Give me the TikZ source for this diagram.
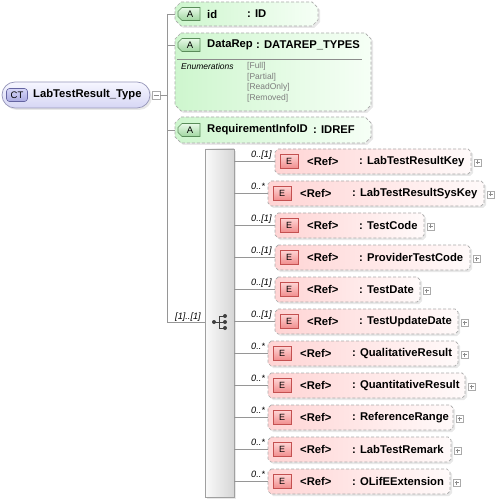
\documentclass[tikz,border=0pt]{standalone}
\usepackage{fontspec}
\setmainfont{Liberation Sans}
\definecolor{attrL}{RGB}{206,246,206}
\definecolor{attrR}{RGB}{246,255,246}
\definecolor{elemL}{RGB}{255,212,212}
\definecolor{elemR}{RGB}{255,250,250}
\definecolor{dashC}{RGB}{170,170,170}
\definecolor{connC}{RGB}{150,150,150}
\definecolor{aT}{RGB}{232,250,232}
\definecolor{aB}{RGB}{160,214,160}
\definecolor{aD}{RGB}{90,140,90}
\definecolor{eT}{RGB}{255,212,212}
\definecolor{eB}{RGB}{240,140,140}
\definecolor{eD}{RGB}{196,80,80}
\definecolor{ctT}{RGB}{246,246,255}
\definecolor{ctB}{RGB}{214,214,244}
\definecolor{ctD}{RGB}{150,150,185}
\definecolor{ctbT}{RGB}{215,215,248}
\definecolor{ctbB}{RGB}{170,170,225}
\definecolor{ctbD}{RGB}{100,100,160}
\definecolor{seqL}{RGB}{250,250,250}
\definecolor{seqR}{RGB}{214,214,214}
\definecolor{seqD}{RGB}{160,160,160}
\definecolor{enumC}{RGB}{125,125,125}
\definecolor{sepC}{RGB}{140,140,140}
\newcommand\chamf[3]{%
  \path[#3] ([xshift=#2]#1.north west) -- ([xshift=-#2]#1.north east) -- ([yshift=-#2]#1.north east) -- ([yshift=#2]#1.south east) -- ([xshift=-#2]#1.south east) -- ([xshift=#2]#1.south west) -- ([yshift=#2]#1.south west) -- ([yshift=-#2]#1.north west) -- cycle;}
\newcommand\tagshape[2]{%
  \path[#2] ([xshift=4pt]#1.north west) -- (#1.north east) -- (#1.south east) -- ([xshift=4pt]#1.south west) -- ([yshift=4pt]#1.south west) -- ([yshift=-4pt]#1.north west) -- cycle;}
\begin{document}
\begin{tikzpicture}[x=1pt,y=-1pt,
  frame/.style={rectangle, inner sep=0pt, outer sep=0pt, anchor=west},
  dashbox/.style={draw=dashC, line width=0.7pt, dash pattern=on 3pt off 2pt},
  shadowed/.style={preaction={fill=black!9, transform canvas={xshift=2pt,yshift=-2pt}}},
  attrsty/.style={shadowed, dashbox, left color=attrL, right color=attrR},
  elemsty/.style={shadowed, dashbox, left color=elemL, right color=elemR},
  abadge/.style={top color=aT, bottom color=aB, draw=aD, line width=0.6pt},
  ebadge/.style={rectangle, minimum width=18pt, minimum height=14pt, inner sep=0pt, top color=eT, bottom color=eB, draw=eD, line width=0.6pt, font=\fontsize{9}{10}\selectfont},
  letter/.style={inner sep=0pt, font=\fontsize{9.5}{11}\selectfont},
  nm/.style={font=\fontsize{11.25}{13}\selectfont\bfseries, inner sep=0pt, anchor=west},
  mult/.style={font=\fontsize{9.2}{11}\selectfont\itshape, inner sep=0pt, anchor=base west},
  enum/.style={font=\fontsize{8.5}{10}\selectfont, text=enumC, inner sep=0pt, anchor=west},
  conn/.style={draw=connC, line width=0.7pt},
  plusbox/.style={rectangle, draw=dashC, fill=white, line width=0.5pt, minimum size=7pt, inner sep=0pt}]
\useasboundingbox (0,0) rectangle (494,502);

% complex type
\node[rectangle, rounded corners=13pt, minimum width=148pt, minimum height=26pt, inner sep=0pt,
  top color=ctT, bottom color=ctB, draw=ctD, line width=0.7pt, shadowed] (ct) at (76,95) {};
\node[rectangle, rounded corners=3pt, minimum width=21pt, minimum height=13pt, inner sep=0pt,
  top color=ctbT, bottom color=ctbB, draw=ctbD, line width=0.6pt, font=\fontsize{9.5}{11}\selectfont] (ctb) at (17,95) {CT};
\node[nm] (ctn) at (33,95) {LabTestResult\_Type};
\node[plusbox, minimum size=8pt] (minus) at (156,95) {};
\draw[draw=sepC, line width=0.5pt] ([xshift=-2.5pt]minus.center) -- ([xshift=2.5pt]minus.center);

% trunk
\coordinate (tTop) at (167,14);
\coordinate (tCT) at (167,95);
\coordinate (tDR) at (167,45);
\coordinate (tRQ) at (167,130);
\coordinate (tBot) at (167,322);
\draw[conn] (tTop) -- (tBot);
\draw[conn] (minus.east) -- (tCT);

% attribute id
\node[frame, minimum width=143pt, minimum height=24pt] (aid) at (175,14) {};
\chamf{aid}{6pt}{attrsty}
\node[frame, minimum width=22pt, minimum height=13pt] (aidb) at (178,14) {};
\tagshape{aidb}{abadge}
\node[letter] (aidA) at ([xshift=1pt]aidb.center) {A};
\node[nm] (aidn) at (207,14) {id};
\node[nm] (aidt) at (247,14) {: ID};
\draw[conn] (tTop) -- (aid.west);

% attribute DataRep
\node[frame, minimum width=196pt, minimum height=78pt] (adr) at (175,72) {};
\chamf{adr}{6pt}{attrsty}
\node[frame, minimum width=22pt, minimum height=13pt] (adrb) at (178,45) {};
\tagshape{adrb}{abadge}
\node[letter] (adrA) at ([xshift=1pt]adrb.center) {A};
\node[nm] (adrn) at (207,45) {DataRep};
\node[nm] (adrt) at (256,45) {: DATAREP\_TYPES};
\draw[draw=sepC, line width=0.6pt] (177,59) -- (362,59);
\node[enum, text=black, font=\fontsize{8.5}{10}\selectfont\itshape] (enh) at (181,66.5) {Enumerations};
\node[enum] (en1) at (247,66.5) {[Full]};
\node[enum] (en2) at (247,77.1) {[Partial]};
\node[enum] (en3) at (247,87.7) {[ReadOnly]};
\node[enum] (en4) at (247,98.3) {[Removed]};
\draw[conn] (tDR) -- (tDR -| adr.west);

% attribute RequirementInfoID
\node[frame, minimum width=196pt, minimum height=26pt] (arq) at (175,130) {};
\chamf{arq}{6pt}{attrsty}
\node[frame, minimum width=22pt, minimum height=13pt] (arqb) at (178,130) {};
\tagshape{arqb}{abadge}
\node[letter] (arqA) at ([xshift=1pt]arqb.center) {A};
\node[nm] (arqn) at (207,130) {RequirementInfoID};
\node[nm] (arqt) at (313,130) {: IDREF};
\draw[conn] (tRQ) -- (arq.west);

% sequence
\node[frame, minimum width=29pt, minimum height=348pt, shadowed, draw=seqD, line width=0.7pt, left color=seqL, right color=seqR] (seq) at (205,323) {};
\draw[conn] (tBot) -- (tBot -| seq.west);
\node[mult] (seqm) at (175,319) {[1]..[1]};
\coordinate (sym) at (219,322);
\draw[black!75, line width=0.8pt] ([xshift=-5pt]sym) -- (sym)
  ([yshift=6pt]sym) -- ([yshift=-6pt]sym)
  ([yshift=6pt]sym) -- ([xshift=6pt,yshift=6pt]sym)
  (sym) -- ([xshift=6pt]sym)
  ([yshift=-6pt]sym) -- ([xshift=6pt,yshift=-6pt]sym);
\fill[black!75] ([xshift=-5pt]sym) circle (2pt)
  ([xshift=6pt,yshift=6pt]sym) circle (2pt)
  ([xshift=6pt]sym) circle (2pt)
  ([xshift=6pt,yshift=-6pt]sym) circle (2pt);

% elements
\foreach \i/\x/\r/\nme/\m in {
  1/275/471/LabTestResultKey/{0..[1]},
  2/268/484/LabTestResultSysKey/{0..*},
  3/275/424/TestCode/{0..[1]},
  4/275/470/ProviderTestCode/{0..[1]},
  5/275/420/TestDate/{0..[1]},
  6/275/458/TestUpdateDate/{0..[1]},
  7/268/458/QualitativeResult/{0..*},
  8/268/465/QuantitativeResult/{0..*},
  9/268/453/ReferenceRange/{0..*},
  10/268/451/LabTestRemark/{0..*},
  11/268/450/OLifEExtension/{0..*}}{
  \pgfmathsetmacro\cy{161.5+32*(\i-1)}
  \pgfmathsetmacro\w{\r-\x}
  \node[frame, minimum width=\w pt, minimum height=25pt] (e\i) at (\x,\cy) {};
  \chamf{e\i}{3pt}{elemsty}
  \node[ebadge] (eb\i) at ([xshift=14pt]e\i.west) {E};
  \node[nm] (er\i) at ([xshift=32pt]e\i.west) {<Ref>};
  \node[nm] (en\i) at ([xshift=84pt]e\i.west) {: \nme};
  \node[plusbox] (p\i) at ([xshift=6.5pt,yshift=-1pt]e\i.east) {};
  \draw[draw=sepC, line width=0.5pt] ([xshift=-2pt]p\i.center) -- ([xshift=2pt]p\i.center)
    ([yshift=-2pt]p\i.center) -- ([yshift=2pt]p\i.center);
  \draw[conn] (seq.east |- e\i.west) -- (e\i.west);
  \node[mult] (m\i) at (251,\cy-4) {\m};
}
\end{tikzpicture}
\end{document}
